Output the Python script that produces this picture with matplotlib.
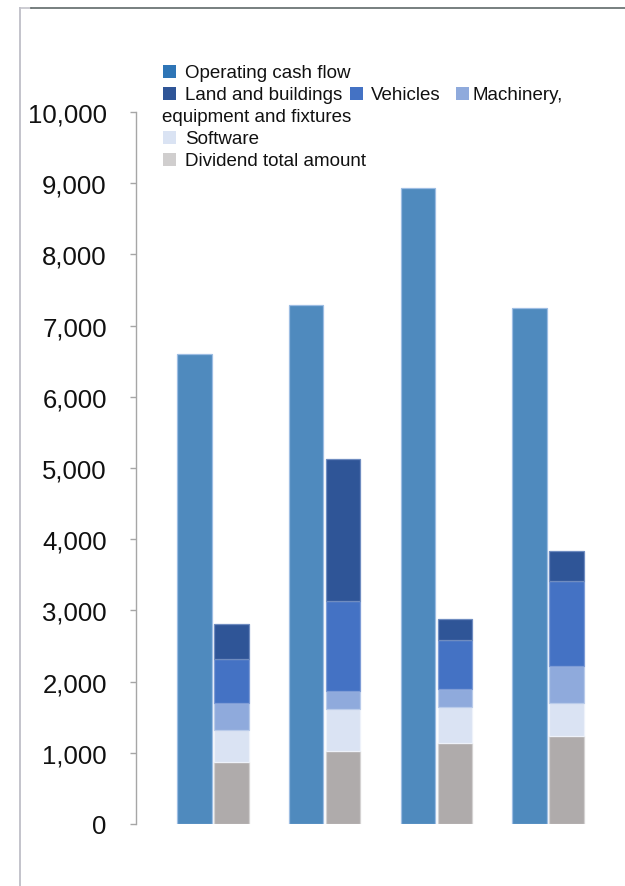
import matplotlib
matplotlib.use("Agg")
import matplotlib.pyplot as plt
from matplotlib.patches import Rectangle
from matplotlib.lines import Line2D
import numpy as np

plt.rcParams['font.family'] = ['Liberation Sans', 'DejaVu Sans']

# ---- data ----
categories = ["Period 1", "Period 2", "Period 3", "Period 4"]
operating_cash_flow = [6600, 7290, 8930, 7250]
dividend_total = [865, 1021, 1133, 1232]
software = [459, 594, 510, 467]
machinery = [375, 253, 253, 520]
vehicles = [618, 1260, 693, 1189]
land_buildings = [488, 1998, 295, 431]

y_ticks = [0, 1000, 2000, 3000, 4000, 5000, 6000, 7000, 8000, 9000, 10000]
y_tick_labels = ["0", "1,000", "2,000", "3,000", "4,000", "5,000",
                 "6,000", "7,000", "8,000", "9,000", "10,000"]

legend_labels = ["Operating cash flow", "Land and buildings", "Vehicles",
                 "Machinery,", "equipment and fixtures", "Software",
                 "Dividend total amount"]

# ---- styles ----
c_ocf, e_ocf = "#4F8ABE", "#9DBDE3"
c_land, e_land = "#2F5597", "#6F8CC0"
c_veh, e_veh = "#4472C4", "#7E9CD6"
c_mach, e_mach = "#8FAADC", "#B9CBEA"
c_soft, e_soft = "#DAE3F3", "#EEF2FA"
c_div, e_div = "#AFABAB", "#D4D2D2"
leg_ocf, leg_div = "#2E75B6", "#D0CECE"

W, H = 625, 887
fig = plt.figure(figsize=(W / 100, H / 100), dpi=100)
ax = fig.add_axes([136 / W, 1 - 825 / H, (W - 136) / W, (825 - 113) / H])

x = np.arange(len(categories))
bw = 0.31
off = 0.166
ax.bar(x - off, operating_cash_flow, bw, color=c_ocf, edgecolor=e_ocf, linewidth=0.9)

bottom = np.zeros(len(categories))
for vals, c, e in [(dividend_total, c_div, e_div), (software, c_soft, e_soft),
                   (machinery, c_mach, e_mach), (vehicles, c_veh, e_veh),
                   (land_buildings, c_land, e_land)]:
    ax.bar(x + off, vals, bw, bottom=bottom, color=c, edgecolor=e, linewidth=0.9)
    bottom += np.array(vals)

ax.set_ylim(0, 10000)
ax.set_xlim(-0.687, 3.687)
ax.set_yticks(y_ticks)
ax.set_yticklabels(y_tick_labels, fontsize=18.5, color="#111111")
ax.set_xticks([])
for s in ["top", "right", "bottom"]:
    ax.spines[s].set_visible(False)
ax.spines["left"].set_color("#A6A6A6")
ax.spines["left"].set_linewidth(1.0)
ax.tick_params(axis="y", direction="out", length=4.0, width=1.0,
               color="#A6A6A6", pad=17)
ax.set_facecolor("none")

# ---- legend (manual, Excel-like wrapping) ----
def px(xp, yp):
    return xp / W, 1 - yp / H

sq = 13
fs_leg = 13.5
dy = 1.5
def leg_item(xs, yc, color, label, xt=None):
    fx, fy = px(xs, yc + sq / 2)
    fig.patches.append(Rectangle((fx, fy), sq / W, sq / H, transform=fig.transFigure,
                                 facecolor=color, edgecolor="none"))
    tx, ty = px(xt if xt is not None else xs + 22, yc + dy)
    fig.text(tx, ty, label, fontsize=fs_leg, va="center", ha="left", color="#111111")

leg_item(163, 72, leg_ocf, legend_labels[0])
leg_item(163, 94, c_land, legend_labels[1])
leg_item(350, 94, c_veh, legend_labels[2], xt=371)
leg_item(456, 94, c_mach, legend_labels[3], xt=472)
tx, ty = px(162, 116 + dy)
fig.text(tx, ty, legend_labels[4], fontsize=fs_leg, va="center", ha="left", color="#111111")
leg_item(163, 138, c_soft, legend_labels[5])
leg_item(163, 160, leg_div, legend_labels[6])

# ---- outer frame (left and top) ----
fig.lines.append(Line2D([20 / W, 20 / W], [0, 1 - 8.5 / H], transform=fig.transFigure,
                        color="#C3C3CB", linewidth=1.4))
fig.lines.append(Line2D([20 / W, 31 / W], [1 - 8.7 / H, 1 - 8.7 / H], transform=fig.transFigure,
                        color="#C3C3CB", linewidth=1.2))
fig.lines.append(Line2D([31 / W, 1], [1 - 8.7 / H, 1 - 8.7 / H], transform=fig.transFigure,
                        color="#606A6A", linewidth=1.2))

fig.savefig("out.png", dpi=100)
